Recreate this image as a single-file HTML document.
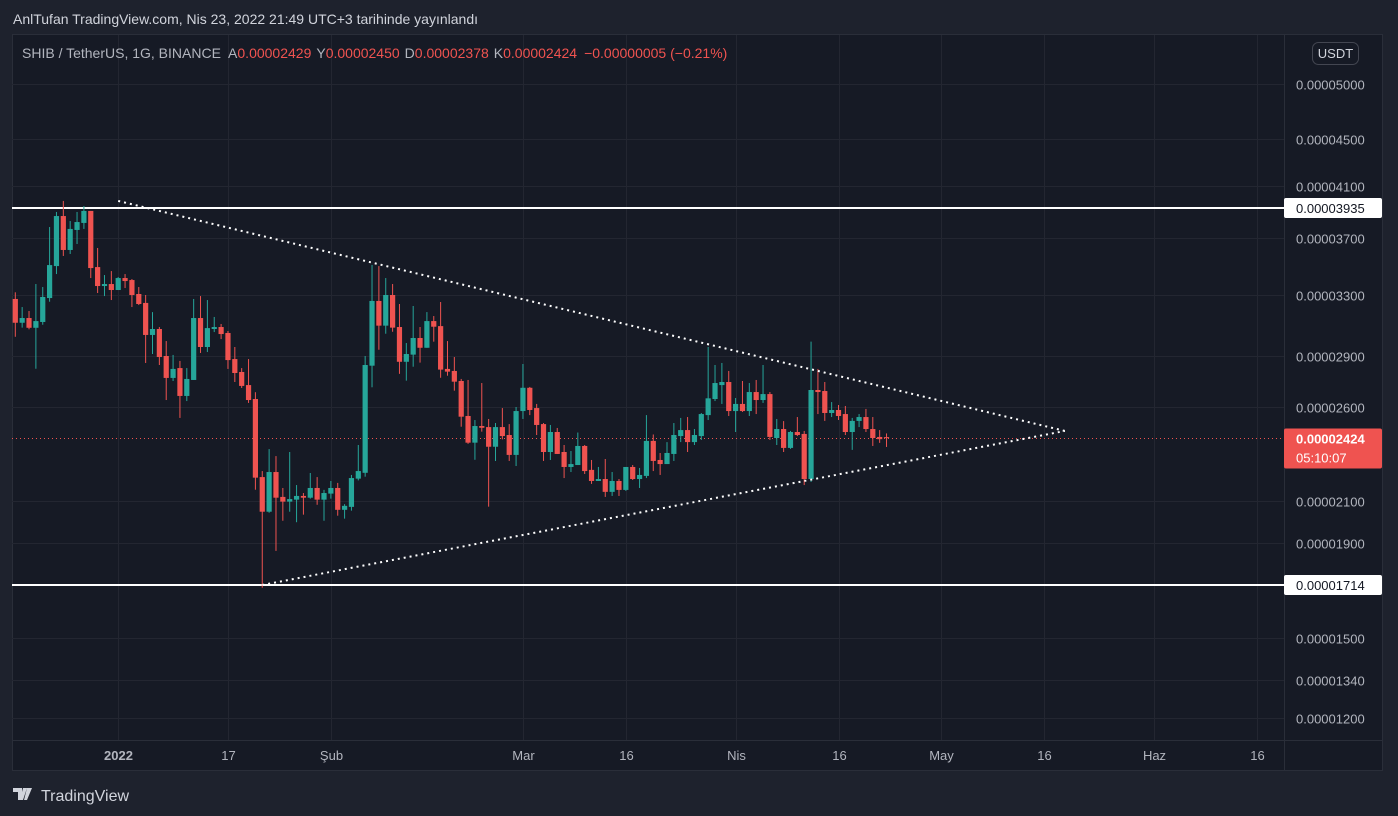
<!DOCTYPE html>
<html><head><meta charset="utf-8"><style>
html,body{margin:0;padding:0;background:#1e222d;width:1398px;height:816px;overflow:hidden;font-family:"Liberation Sans",sans-serif}
svg text{font-family:"Liberation Sans",sans-serif}
</style></head><body>
<svg id="c" width="1398" height="816" xmlns="http://www.w3.org/2000/svg">
<rect x="0" y="0" width="1398" height="816" fill="#1e222d"/>
<text x="13" y="24" fill="#d1d4dc" font-size="14">AnlTufan TradingView.com, Nis 23, 2022 21:49 UTC+3 tarihinde yayınlandı</text>
<rect x="12.5" y="34.5" width="1370" height="736" fill="#161a25" stroke="#2a2e39"/>
<g id="grid"></g>
<g id="hlines"></g>
<g id="candles"></g>
<g id="trend"></g>
<line x1="1284.5" y1="35" x2="1284.5" y2="771" stroke="#2a2e39"/>
<line x1="12" y1="740.5" x2="1383" y2="740.5" stroke="#2a2e39"/>
<g id="yaxis"></g>
<g id="xaxis"></g>
<rect x="1312.5" y="42.5" width="46" height="22" rx="6" fill="none" stroke="#434651"/>
<text x="1335.5" y="58" fill="#d1d4dc" font-size="13" text-anchor="middle">USDT</text>
<text x="22" y="58" font-size="14" fill="#b2b5be">SHIB / TetherUS, 1G, BINANCE  <tspan dx="4">A</tspan><tspan fill="#f05350">0.00002429</tspan><tspan dx="5">Y</tspan><tspan fill="#f05350">0.00002450</tspan><tspan dx="5">D</tspan><tspan fill="#f05350">0.00002378</tspan><tspan dx="5">K</tspan><tspan fill="#f05350">0.00002424</tspan><tspan dx="7" fill="#f05350">−0.00000005 (−0.21%)</tspan></text>
<g>
<path d="M13 788h9v12h-4v-8h-5zM23 788h4l-4 12h-3z M27 788h5l-5 12h-3z" fill="#d1d4dc"/>
<text x="41" y="801" font-size="16" fill="#d1d4dc">TradingView</text>
</g>
</svg>
<script>
const opens=[3274,3118,3149,3085,3123,3280,3503,3872,3616,3763,3818,3912,3496,3363,3377,3335,3419,3405,3307,3248,3038,3077,2900,2771,2829,2665,2759,3149,2959,3077,3090,3051,2882,2806,2729,2647,2223,2049,2249,2121,2097,2107,2126,2117,2167,2107,2138,2167,2058,2072,2215,2245,2843,3261,3099,3300,3090,2866,2909,3018,2954,3129,3096,2824,2812,2753,2549,2400,2492,2486,2379,2486,2441,2337,2577,2713,2594,2503,2352,2458,2352,2275,2285,2383,2260,2203,2213,2147,2203,2157,2275,2213,2229,2409,2311,2290,2342,2435,2469,2403,2435,2554,2647,2729,2747,2577,2618,2577,2688,2641,2676,2424,2475,2373,2458,2447,2213,2700,2694,2566,2583,2560,2458,2521,2543,2475,2430,2429];
const highs=[3319,3221,3195,3377,3356,3786,3904,3988,3833,3904,3950,3912,3630,3440,3468,3426,3447,3412,3356,3300,3188,3090,2998,2907,2871,2829,3274,3293,3267,3156,3110,3064,2959,2829,2882,2687,2254,2367,2331,2167,2352,2182,2141,2244,2223,2157,2203,2193,2085,2234,2388,2900,3511,3503,3419,3377,3241,2985,3228,3090,3188,3162,3254,2998,2894,2765,2759,2526,2741,2532,2509,2594,2503,2600,2853,2718,2618,2509,2498,2481,2388,2357,2455,2388,2311,2275,2316,2249,2213,2275,2285,2270,2554,2444,2347,2403,2509,2538,2543,2475,2566,2959,2847,2859,2812,2653,2753,2741,2759,2847,2688,2532,2520,2464,2543,2464,2994,2824,2747,2629,2612,2606,2538,2560,2589,2543,2469,2450];
const lows=[3026,3086,3075,2825,3105,3256,3447,3574,3588,3658,3771,3419,3314,3293,3267,3335,3349,3221,3234,2859,2913,2847,2641,2753,2538,2635,2759,2920,2926,3057,3011,2824,2747,2712,2624,2158,1703,2044,1865,2006,2049,1999,2035,2112,2082,2006,2112,2030,2016,2054,2206,2225,2716,2941,3046,3059,2795,2755,2837,2861,2954,2994,2772,2784,2696,2488,2394,2312,2460,2073,2306,2417,2306,2280,2532,2554,2441,2306,2311,2342,2218,2249,2285,2239,2188,2203,2121,2126,2126,2152,2208,2167,2218,2254,2234,2290,2306,2403,2352,2388,2414,2526,2635,2618,2549,2458,2572,2549,2560,2624,2414,2388,2352,2368,2435,2182,2198,2560,2521,2543,2526,2441,2363,2486,2458,2383,2399,2378];
const closes=[3118,3149,3085,3129,3287,3510,3872,3616,3771,3825,3912,3489,3363,3377,3335,3419,3398,3300,3241,3038,3077,2894,2771,2824,2665,2765,3149,2959,3083,3090,3044,2876,2800,2724,2641,2220,2049,2249,2117,2097,2110,2126,2117,2167,2107,2141,2167,2058,2077,2218,2254,2847,3261,3099,3300,3086,2866,2913,3018,2954,3129,3092,2820,2808,2749,2545,2400,2492,2482,2379,2486,2435,2337,2577,2713,2583,2498,2352,2458,2342,2275,2290,2383,2254,2203,2213,2147,2203,2157,2275,2213,2234,2409,2306,2290,2347,2441,2469,2403,2441,2560,2651,2741,2747,2577,2618,2577,2688,2641,2676,2430,2475,2373,2458,2441,2213,2700,2688,2566,2583,2549,2458,2521,2543,2475,2424,2418,2424];
const priceTicks=[5000,4500,4100,3700,3300,2900,2600,2100,1900,1500,1340,1200];
const levels=[3935,1714];
const lastPrice=2424;
const timeLabels=["2022","17","Şub","Mar","16","Nis","16","May","16","Haz","16"];
const timeDays=[15,31,46,74,89,105,120,135,150,166,181];
const upperTrend=[15,3988,153,2464];
const lowerTrend=[36,1714,153,2464];
const NS='http://www.w3.org/2000/svg';
// scale anchors (price -> pixel), piecewise
const scP=[5000,4500,4100,3935,3700,3300,2900,2600,2424,2100,1900,1714,1500,1340,1200];
const scY=[84,139,186,208,238,295,356,407,438,501,543,585,638,680,718];
function y(p){
  for(let i=0;i<scP.length-1;i++){
    if(p<=scP[i]&&p>=scP[i+1]){return scY[i]+(scP[i]-p)/(scP[i]-scP[i+1])*(scY[i+1]-scY[i]);}
  }
  if(p>scP[0]) return scY[0]-(p-scP[0])*(scY[1]-scY[0])/(scP[0]-scP[1]);
  const n=scP.length-1;return scY[n]+(scP[n]-p)*(scY[n]-scY[n-1])/(scP[n-1]-scP[n]);
}
function x(d){return 15.3+d*6.86;}
function mk(tag,attrs,parent){const e=document.createElementNS(NS,tag);for(const k in attrs)e.setAttribute(k,attrs[k]);parent.appendChild(e);return e;}
function fmt(p){return '0.0000'+String(Math.round(p)).padStart(4,'0');}
const grid=document.getElementById('grid'),ya=document.getElementById('yaxis'),xa=document.getElementById('xaxis');
priceTicks.forEach(p=>{
  const yy=Math.round(y(p))+0.5;
  const l=mk('line',{x1:12,x2:1284,y1:yy,y2:yy,stroke:'#232631'},grid);
  
  
  const t=mk('text',{x:1296,y:yy+5,fill:'#b2b5be','font-size':13},ya);
  t.textContent=fmt(p);
  
  
});
timeDays.forEach((d,i)=>{
  const xx=Math.round(x(d))+0.5;
  const l=mk('line',{x1:xx,x2:xx,y1:35,y2:740,stroke:'#232631'},grid);
  
  
  const t=mk('text',{x:xx,y:760,fill:'#b2b5be','font-size':13,'text-anchor':'middle','font-weight':i==0?'bold':'normal'},xa);
  t.textContent=timeLabels[i];
  
  
});
const hl=document.getElementById('hlines');
const ly=Math.round(y(lastPrice))+0.5;
const cl=mk('line',{x1:12,x2:1284,y1:ly,y2:ly,stroke:'#ef5350','stroke-dasharray':'1 3','stroke-width':1},hl);


levels.forEach(p=>{
  const yy=y(p);
  const l=mk('line',{x1:12,x2:1284,y1:yy,y2:yy,stroke:'#ffffff','stroke-width':2},hl);
  
  
  const r=mk('rect',{x:1284,y:yy-10,width:98,height:20,rx:2,fill:'#ffffff'},ya);
  
  
  const t=mk('text',{x:1296,y:yy+5,fill:'#131722','font-size':13},ya);
  t.textContent=fmt(p);
  
  
});
const cb=mk('rect',{x:1284,y:ly-10,width:98,height:40,rx:2,fill:'#ef5350'},ya);


const ct=mk('text',{x:1296,y:ly+5,fill:'#ffffff','font-size':13,'font-weight':'bold'},ya);
ct.textContent=fmt(lastPrice);


const cd=mk('text',{x:1296,y:ly+24,fill:'#ffffff','font-size':13},ya);
cd.textContent='05:10:07';


const cg=document.getElementById('candles');
for(let i=0;i<opens.length;i++){
  const up=closes[i]>=opens[i];const col=up?'#26a69a':'#ef5350';
  const cx=x(i);
  const g=mk('g',{},cg);
  
  
  mk('line',{x1:cx,x2:cx,y1:y(highs[i]),y2:y(lows[i]),stroke:col,'stroke-width':1},g);
  const t=Math.min(y(opens[i]),y(closes[i])),b=Math.max(y(opens[i]),y(closes[i]));
  mk('rect',{x:cx-2.6,y:t,width:5.2,height:Math.max(1,b-t),fill:col},g);
}
const tg=document.getElementById('trend');
[upperTrend,lowerTrend].forEach((a,k)=>{
  const l=mk('line',{x1:x(a[0]),y1:y(a[1]),x2:x(a[2]),y2:y(a[3]),stroke:'#ffffff','stroke-width':2,'stroke-dasharray':'2 4'},tg);
  
  
});
</script>
</body></html>
